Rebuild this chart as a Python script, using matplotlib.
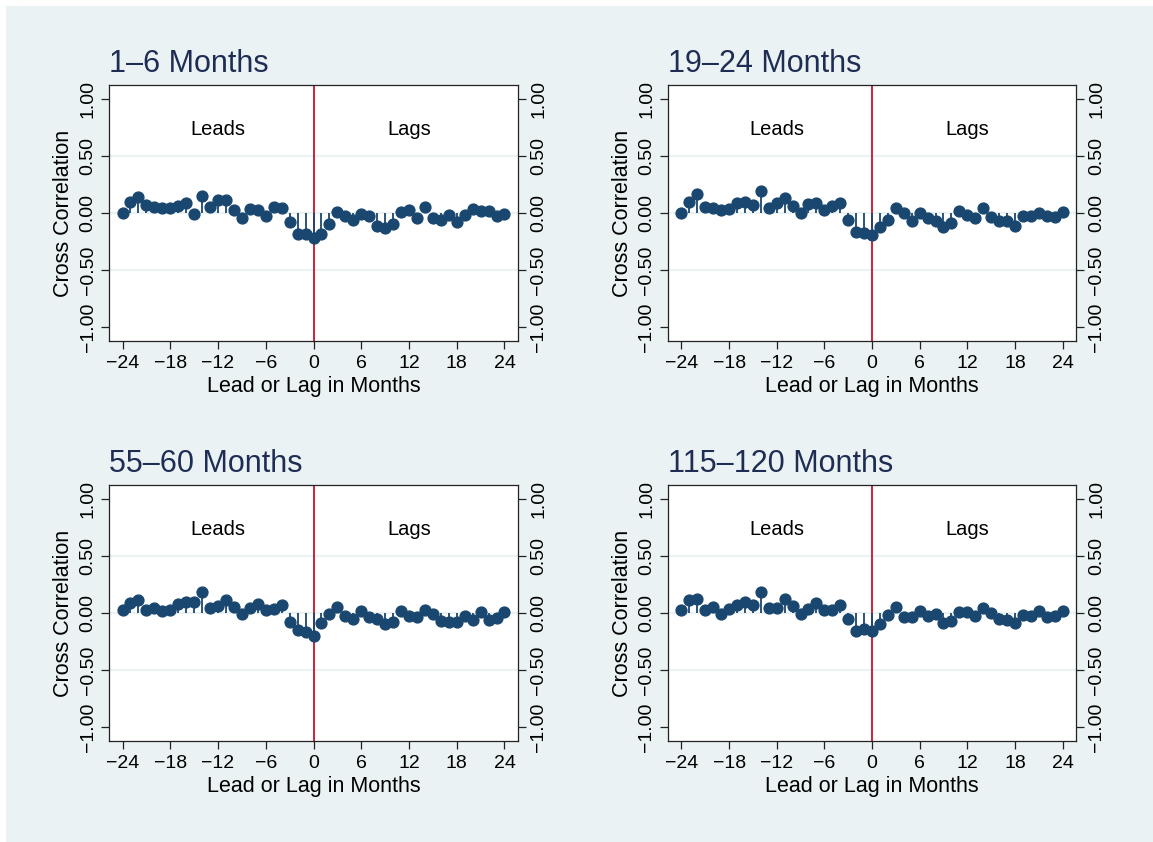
import numpy as np
import matplotlib
matplotlib.use('Agg')
import matplotlib.pyplot as plt
from matplotlib.patches import Rectangle

plt.rcParams['font.family'] = ['Liberation Sans', 'DejaVu Sans']

lags = list(range(-24, 25))

titles = ['1\u20136 Months', '19\u201324 Months', '55\u201360 Months', '115\u2013120 Months']

ccf_1_6 = [0.00, 0.094, 0.14, 0.068, 0.05, 0.045, 0.04, 0.065, 0.088, -0.01,
           0.15, 0.05, 0.11, 0.11, 0.03, -0.04, 0.035, 0.03, -0.03, 0.05,
           0.045, -0.075, -0.18, -0.18, -0.22, -0.18, -0.095, 0.005, -0.03, -0.06,
           -0.005, -0.03, -0.11, -0.13, -0.10, 0.005, 0.03, -0.04, 0.05, -0.045,
           -0.065, -0.02, -0.08, -0.015, 0.035, 0.02, 0.02, -0.03, -0.005]

ccf_19_24 = [0.00, 0.10, 0.17, 0.053, 0.04, 0.027, 0.035, 0.088, 0.10, 0.074,
             0.19, 0.044, 0.088, 0.13, 0.065, 0.00, 0.08, 0.088, 0.024, 0.065,
             0.088, -0.06, -0.17, -0.175, -0.19, -0.124, -0.06, 0.044, 0.00, -0.068,
             0.00, -0.044, -0.074, -0.12, -0.09, 0.015, -0.02, -0.044, 0.04, -0.038,
             -0.074, -0.074, -0.11, -0.03, -0.03, 0.00, -0.03, -0.038, 0.006]

ccf_55_60 = [0.024, 0.088, 0.118, 0.024, 0.04, 0.015, 0.03, 0.08, 0.10, 0.10,
             0.18, 0.044, 0.06, 0.118, 0.053, -0.01, 0.044, 0.08, 0.03, 0.035,
             0.074, -0.08, -0.15, -0.17, -0.20, -0.088, -0.01, 0.053, -0.03, -0.053,
             0.015, -0.038, -0.053, -0.10, -0.08, 0.015, -0.024, -0.038, 0.03, -0.01,
             -0.074, -0.08, -0.08, -0.024, -0.06, 0.006, -0.06, -0.044, 0.006]

ccf_115_120 = [0.024, 0.11, 0.124, 0.03, 0.053, -0.006, 0.035, 0.074, 0.097, 0.074,
               0.185, 0.044, 0.044, 0.124, 0.06, -0.006, 0.035, 0.088, 0.024, 0.024,
               0.074, -0.053, -0.156, -0.14, -0.16, -0.097, -0.015, 0.053, -0.038, -0.038,
               0.015, -0.03, -0.01, -0.088, -0.074, 0.006, 0.006, -0.03, 0.044, 0.00,
               -0.053, -0.06, -0.088, -0.015, -0.03, 0.015, -0.038, -0.024, 0.015]

all_ccf = [ccf_1_6, ccf_19_24, ccf_55_60, ccf_115_120]

xticks = [-24, -18, -12, -6, 0, 6, 12, 18, 24]
xticklabels = ['\u221224', '\u221218', '\u221212', '\u22126', '0', '6', '12', '18', '24']
yticks = [-1.0, -0.5, 0.0, 0.5, 1.0]
yticklabels = ['\u22121.00', '\u22120.50', '0.00', '0.50', '1.00']

navy = '#1a476f'
bg = '#eaf2f3'
red = '#c8102e'

W, H = 1153, 842
fig = plt.figure(figsize=(W / 100, H / 100), dpi=100)
fig.patch.set_facecolor('white')
fig.patches.append(Rectangle((6 / W, 0), 1 - 6 / W, 1 - 6 / H, transform=fig.transFigure,
                             facecolor=bg, edgecolor='none', zorder=-10))

# axes boxes in pixels: left, top, right, bottom
boxes = [(109, 85, 518, 341), (668, 85, 1076, 341),
         (109, 485, 518, 741), (668, 485, 1076, 741)]

for i, (l, t, r, b) in enumerate(boxes):
    ax = fig.add_axes([l / W, 1 - b / H, (r - l) / W, (b - t) / H])
    ax.set_facecolor('white')
    vals = np.array(all_ccf[i])

    for g in (-0.5, 0.0, 0.5):
        ax.axhline(g, color=bg, lw=1.6, zorder=0)
    ax.axvline(0, color=red, lw=1.3, zorder=1)
    ax.vlines(lags, 0, vals, color=navy, lw=1.3, zorder=2)
    ax.plot(lags, vals, 'o', color=navy, ms=7.8, mec=navy, zorder=3)

    ax.text(-12, 0.73, 'Leads', ha='center', va='center', fontsize=14.5)
    ax.text(12, 0.73, 'Lags', ha='center', va='center', fontsize=14.5)

    ax.set_xlim(-25.7, 25.7)
    ax.set_ylim(-1.12, 1.12)
    ax.set_xticks(xticks)
    ax.set_xticklabels(xticklabels)
    ax.set_yticks(yticks)
    ax.set_yticklabels(yticklabels, va='center')
    ax.tick_params(axis='both', direction='out', length=6, width=0.9, labelsize=14, color='#222222')
    ax.tick_params(axis='y', right=True, labelright=True, labelrotation=90, pad=3)
    ax.tick_params(axis='x', pad=4)
    for s in ax.spines.values():
        s.set_linewidth(0.9)
        s.set_color('#222222')

    ax.set_xlabel('Lead or Lag in Months', fontsize=15.5, labelpad=3)
    ax.set_ylabel('Cross Correlation', fontsize=15.5, labelpad=4)
    ax.set_title(titles[i], loc='left', fontsize=22, color='#1f2d55', pad=9)

fig.savefig('out.png', dpi=100, facecolor=fig.get_facecolor())
